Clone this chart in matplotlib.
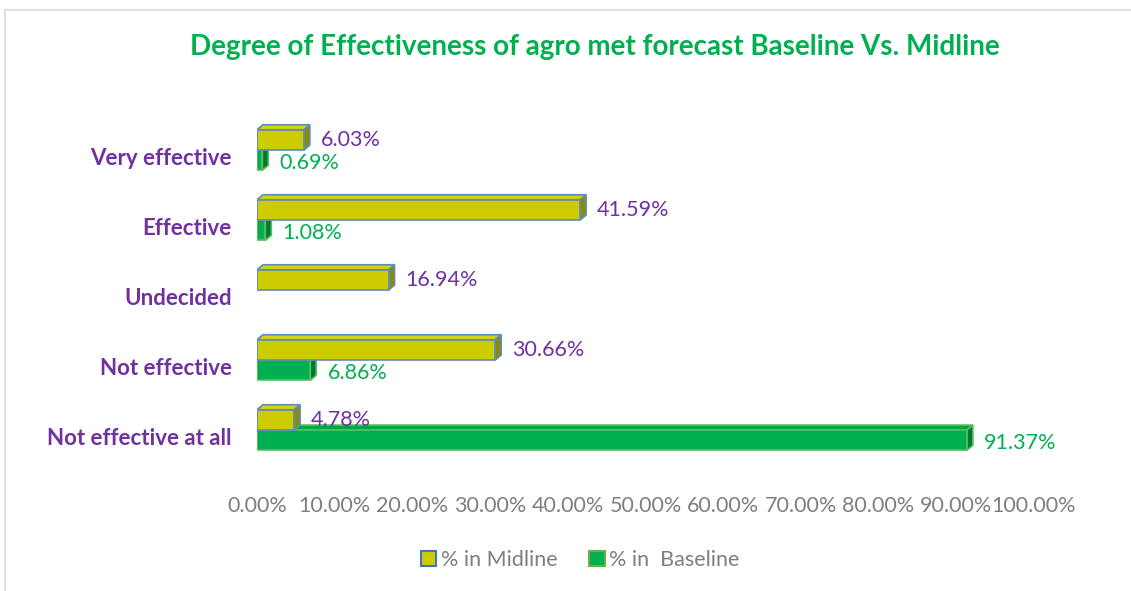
import matplotlib.pyplot as plt
from matplotlib.patches import Polygon, Patch, Rectangle
from matplotlib.lines import Line2D

categories = ["Not effective at all", "Not effective", "Undecided", "Effective", "Very effective"]
midline = [4.78, 30.66, 16.94, 41.59, 6.03]
baseline = [91.37, 6.86, 0.0, 1.08, 0.69]
ticks = [0, 10, 20, 30, 40, 50, 60, 70, 80, 90, 100]

title_col = "#00B050"
purple = "#7030A0"
gray = "#7F7F7F"

plt.rcParams['font.family'] = ['Lato', 'DejaVu Sans']

fig = plt.figure(figsize=(11.31, 5.91), dpi=100)
ax = fig.add_axes([0.2272, 0.1912, 0.687, 0.6159])
ax.set_xlim(0, 100)
ax.set_ylim(-0.6, 4.6)

# depth of the fake 3d faces, pixels -> data units
px_x = 100 / 777.0
px_y = 5.2 / 364.0
dx = 6 * px_x
dy = 5 * px_y
h = 0.29


def bar3d(y, w, front, top, side, edge):
    if w <= 0:
        return
    y0, y1 = y - h / 2, y + h / 2
    ax.add_patch(Polygon([(0, y1), (w, y1), (w + dx, y1 + dy), (dx, y1 + dy)],
                         closed=True, fc=top, ec=edge, lw=1.2, zorder=3))
    ax.add_patch(Polygon([(w, y0), (w, y1), (w + dx, y1 + dy), (w + dx, y0 + dy)],
                         closed=True, fc=side, ec=edge, lw=1.2, zorder=3))
    ax.add_patch(Rectangle((0, y0), w, h, fc=front, ec=edge, lw=1.2, zorder=3))


for i, cat in enumerate(categories):
    yb = i - 0.06
    ym = i + 0.23
    bar3d(yb, baseline[i], "#00B050", "#00A548", "#007A30", "#5DBB63")
    bar3d(ym, midline[i], "#CCCC00", "#D4D400", "#8C8C00", "#5B8BC9")
    if baseline[i] > 0:
        ax.annotate(f"{baseline[i]:.2f}%", (baseline[i] + dx, yb), xytext=(8, -2),
                    textcoords="offset points", va="center", ha="left",
                    color=title_col, fontsize=15.5, zorder=5)
    ax.annotate(f"{midline[i]:.2f}%", (midline[i] + dx, ym), xytext=(8, 0),
                textcoords="offset points", va="center", ha="left",
                color=purple, fontsize=15.5, zorder=5)

ax.set_yticks(range(len(categories)))
ax.set_yticklabels(categories, fontsize=16, fontweight="bold", color=purple)
ax.set_xticks(ticks)
ax.set_xticklabels([f"{t:.2f}%" for t in ticks], fontsize=15.5, color=gray)
ax.tick_params(axis="y", length=0, pad=18)
ax.tick_params(axis="x", length=0, pad=13)
for s in ax.spines.values():
    s.set_visible(False)

fig.text(0.526, 0.921, "Degree of Effectiveness of agro met forecast Baseline Vs. Midline",
         ha="center", va="center", fontsize=20, fontweight="bold", color=title_col)

handles = [Patch(fc="#CCCC00", ec="#4472C4", lw=1.5, label="% in Midline"),
           Patch(fc="#00B050", ec="#70AD47", lw=1.5, label="% in  Baseline")]
fig.legend(handles=handles, loc="center", bbox_to_anchor=(0.513, 0.052), ncol=2,
           frameon=False, fontsize=15.5, labelcolor=gray, handlelength=0.7,
           handleheight=0.7, handletextpad=0.2, columnspacing=1.5)

# chart-area border (top and left visible)
fig.add_artist(Line2D([5 / 1131, 1], [1 - 10 / 591, 1 - 10 / 591], color="#D9D9D9", lw=1.2))
fig.add_artist(Line2D([5 / 1131, 5 / 1131], [0, 1 - 10 / 591], color="#D9D9D9", lw=1.2))

fig.savefig("out.png", dpi=100)
